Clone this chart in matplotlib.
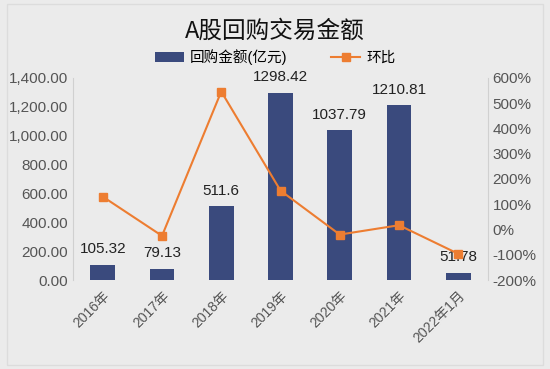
import matplotlib.pyplot as plt
from matplotlib.ticker import FuncFormatter

plt.rcParams['font.family'] = ['Liberation Sans', 'Noto Sans CJK SC']

cats = ["2016年", "2017年", "2018年", "2019年", "2020年", "2021年", "2022年1月"]
amount = [105.32, 79.13, 511.6, 1298.42, 1037.79, 1210.81, 51.78]
ratio = [130, -25, 546, 154, -20, 17, -96]
amount_labels = ["105.32", "79.13", "511.6", "1298.42", "1037.79", "1210.81", "51.78"]

bg = '#ebebeb'
fig = plt.figure(figsize=(5.5, 3.69), dpi=100, facecolor=bg)
fig.patches.append(plt.Rectangle((0.012, 0.012), 0.976, 0.976, transform=fig.transFigure,
                                 fill=False, edgecolor='#dcdcdc', linewidth=1))
ax = fig.add_axes([0.133, 0.241, 0.754, 0.548], facecolor=bg)
x = range(len(cats))
ax.bar(x, amount, width=0.42, color='#3a4a7d', label='回购金额(亿元)', zorder=2)
for xi, v, t in zip(x, amount, amount_labels):
    ax.text(xi, v + 60, t, ha='center', va='bottom', fontsize=11, color='#222222')
ax.set_ylim(0, 1400)
ax.set_yticks(range(0, 1401, 200))
ax.yaxis.set_major_formatter(FuncFormatter(lambda v, p: f"{v:,.2f}"))
ax.set_xlim(-0.5, len(cats) - 0.5)
ax.set_xticks(list(x))
ax.set_xticklabels(cats, rotation=45, ha='right', rotation_mode='anchor', fontsize=10, color='#555555')
ax.tick_params(axis='y', labelsize=11, colors='#555555', length=0)
ax.tick_params(axis='x', length=0, pad=6)
for s in ['top', 'bottom', 'right']:
    ax.spines[s].set_visible(False)
ax.spines['left'].set_color('#d0d0d0')

ax2 = ax.twinx()
ax2.plot(list(x), ratio, color='#ed7d31', marker='s', markersize=6, linewidth=1.5, label='环比', zorder=3)
ax2.set_ylim(-200, 600)
ax2.set_yticks(range(-200, 601, 100))
ax2.yaxis.set_major_formatter(FuncFormatter(lambda v, p: f"{v:.0f}%"))
ax2.tick_params(axis='y', labelsize=11, colors='#555555', length=0)
for s in ['top', 'bottom', 'left']:
    ax2.spines[s].set_visible(False)
ax2.spines['right'].set_color('#d0d0d0')

fig.text(0.5, 0.915, 'A股回购交易金额', ha='center', va='center', fontsize=17, color='#111111',
         family=['Noto Sans CJK SC', 'DejaVu Sans'])
h1, l1 = ax.get_legend_handles_labels()
h2, l2 = ax2.get_legend_handles_labels()
fig.legend(h1 + h2, l1 + l2, loc='center', bbox_to_anchor=(0.5, 0.845), ncol=2, frameon=False,
           fontsize=10.5, handlelength=2, columnspacing=3, handletextpad=0.4)

fig.savefig('out.png', dpi=100, facecolor=bg)
